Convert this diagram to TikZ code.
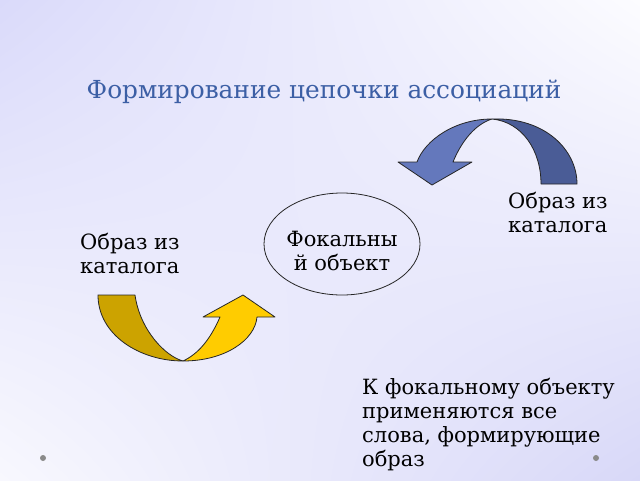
\documentclass[tikz,border=0pt]{standalone}
\usepackage{fontspec}
\setmainfont{DejaVu Serif}
\usetikzlibrary{shadings,shapes.geometric}
\definecolor{titleblue}{HTML}{3C5FA5}
\definecolor{bluelight}{HTML}{6478BC}
\definecolor{bluedark}{HTML}{4A5C96}
\definecolor{yellowlight}{HTML}{FFCC00}
\definecolor{yellowdark}{HTML}{CCA300}
\definecolor{bgtl}{HTML}{DADAFA}
\definecolor{bgtr}{HTML}{FCFCFF}
\definecolor{bgbl}{HTML}{F8F8FE}
\definecolor{bgbr}{HTML}{D8D8F8}
\definecolor{dotgray}{HTML}{8A8A8A}
\begin{document}
\begin{tikzpicture}[x=1pt,y=-1pt,
  label/.style={font=\fontsize{21}{24}\selectfont, align=left, inner sep=0pt, anchor=north west},
  piece/.style={draw=black!85, line width=0.8pt, line join=round},
  dot/.style={circle, fill=dotgray, inner sep=0pt, minimum size=6pt}]
\shade[upper left=bgtl, upper right=bgtr, lower left=bgbl, lower right=bgbr] (0,0) rectangle (640,480);
\useasboundingbox (0,0) rectangle (640,480);

\node[font=\fontsize{24.8}{28}\selectfont, text=titleblue, inner sep=0pt] (title) at (324,92) {Формирование цепочки ассоциаций};

% blue curved arrow
\fill[piece, fill=bluedark] (492,119) .. controls (545,117) and (577,150) .. (577,184)
  -- (541,184) .. controls (541,150) and (522,122) .. (492,119) -- cycle;
\fill[piece, fill=bluelight] (492,119) .. controls (455,119) and (425,140) .. (417,162)
  -- (398,162) -- (432,185) -- (472,162) -- (453,162)
  .. controls (462,140) and (476,124) .. (492,119) -- cycle;

% yellow curved arrow
\fill[piece, fill=yellowdark] (98,295) .. controls (98,335) and (140,361) .. (183,361)
  .. controls (165,356) and (140,330) .. (135,295) -- cycle;
\fill[piece, fill=yellowlight] (183,361) .. controls (225,361) and (255,340) .. (257,317)
  -- (275,317) -- (243,295) -- (203,317) -- (220,317)
  .. controls (210,340) and (198,354) .. (183,361) -- cycle;

\node[draw=black!85, line width=0.8pt, ellipse, minimum width=156pt, minimum height=102pt, inner sep=0pt] (focal) at (342,244) {};
\node[font=\fontsize{21}{24}\selectfont, align=center, inner sep=0pt] (focaltext) at (342,251) {Фокальны\\й объект};

\node[label] (left) at (80,233) {Образ из\\каталога};
\node[label] (right) at (508,192) {Образ из\\каталога};
\node[label] (note) at (362,378) {К фокальному объекту\\применяются все\\слова, формирующие\\образ};

\node[dot] (dotl) at (43,458) {};
\node[dot] (dotr) at (596,458) {};
\end{tikzpicture}
\end{document}
